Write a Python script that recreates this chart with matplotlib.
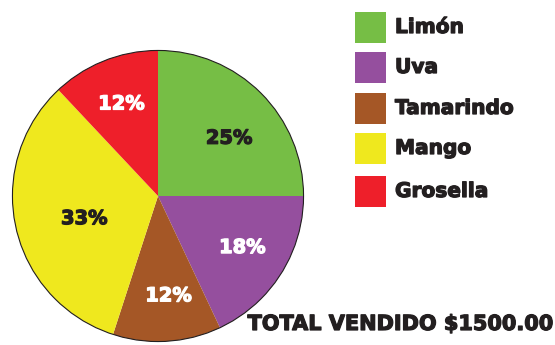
import numpy as np
import matplotlib.pyplot as plt
import matplotlib.patheffects as pe
from matplotlib.patches import Circle, Rectangle

sabores = ['Limón', 'Uva', 'Tamarindo', 'Mango', 'Grosella']
porcentajes = [25, 18, 12, 33, 12]
colores = ['#76BE45', '#954F9E', '#A55726', '#EFE81E', '#EE1F2A']
color_texto_pct = ['#231F20', 'white', 'white', '#231F20', 'white']
total = 1500.00

# ajuste de cada etiqueta de porcentaje (radio relativo, giro en grados)
radio_pct = [0.63, 0.68, 0.69, 0.53, 0.68]
giro_pct = [-6, 1, 2.5, 4.5, 0]

W, H = 555, 345
plt.rcParams['font.family'] = ['DejaVu Sans']
fig = plt.figure(figsize=(W / 100, H / 100), dpi=100)


def grueso(color):
    # engrosar un poco el trazo de la letra
    return [pe.withStroke(linewidth=0.9, foreground=color)]


# pastel: centro (158,196) px, radio 147 px
cx, cy, r = 158, 196, 147
ax = fig.add_axes([(cx - r) / W, (H - cy - r) / H, 2 * r / W, 2 * r / H])
wedges, _ = ax.pie(porcentajes, colors=colores, startangle=90,
                   counterclock=False, radius=1,
                   wedgeprops=dict(linewidth=0))
for w, p, c, rr, g in zip(wedges, porcentajes, color_texto_pct, radio_pct, giro_pct):
    ang = np.deg2rad((w.theta1 + w.theta2) / 2 + g)
    ax.text(rr * np.cos(ang), rr * np.sin(ang), f'{p}%', color=c,
            fontsize=14, fontweight='bold', ha='center', va='center',
            path_effects=grueso(c))
ax.add_patch(Circle((0, 0), 1, fill=False, ec='#231F20', lw=0.8))
ax.set_xlim(-1.01, 1.01)
ax.set_ylim(-1.01, 1.01)
ax.set_aspect('equal')
ax.axis('off')

# leyenda
y_top = [12, 52, 93, 133, 176]
for nombre, color, y in zip(sabores, colores, y_top):
    fig.add_artist(Rectangle((355 / W, (H - y - 31) / H), 31 / W, 31 / H,
                             transform=fig.transFigure, fc=color, ec='none'))
    fig.text(395 / W, (H - y - 15.5) / H, nombre, fontsize=14.5,
             fontweight='bold', color='#231F20', va='center', ha='left',
             path_effects=grueso('#231F20'))

fig.text(553 / W, (H - 324) / H, f'TOTAL VENDIDO ${total:.2f}', fontsize=15,
         fontweight='bold', color='#231F20', va='center', ha='right',
         path_effects=grueso('#231F20'))

fig.savefig('out.png', dpi=100)
